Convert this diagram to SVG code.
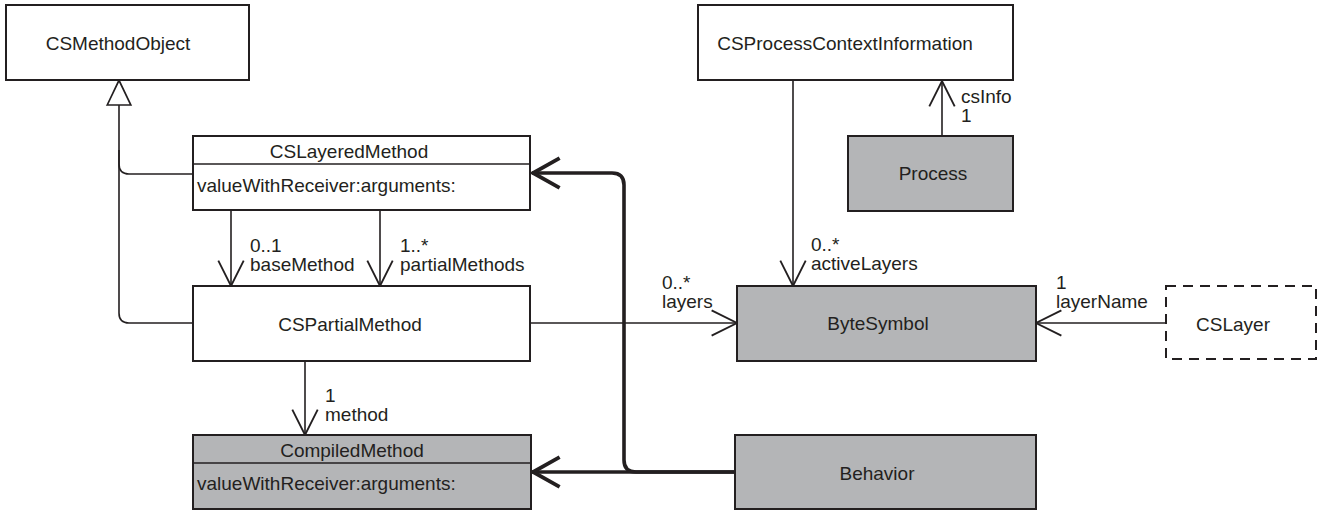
<svg xmlns="http://www.w3.org/2000/svg" width="1323" height="510" viewBox="0 0 1323 510">
  <style>
    text { font-family: "Liberation Sans", Arial, sans-serif; font-size: 19px; fill: #231f20; }
    .c { text-anchor: middle; }
    .box { fill: #ffffff; stroke: #231f20; stroke-width: 2; }
    .gray { fill: #b4b5b7; stroke: #231f20; stroke-width: 2; }
    .dash { fill: #ffffff; stroke: #231f20; stroke-width: 2; stroke-dasharray: 10 7; }
    .div { stroke: #231f20; stroke-width: 1.5; fill: none; }
    .ln { fill: none; stroke: #231f20; stroke-width: 1.6; }
    .bold { fill: none; stroke: #231f20; stroke-width: 3.6; }
  </style>
  <defs>
    <marker id="open" markerUnits="userSpaceOnUse" markerWidth="30" markerHeight="30" viewBox="-24 -13 26 26" refX="0" refY="0" orient="auto" overflow="visible">
      <path d="M -22 -11 L 0 0 L -22 11" fill="none" stroke="#231f20" stroke-width="1.6"/>
    </marker>
    <marker id="openBold" markerUnits="userSpaceOnUse" markerWidth="34" markerHeight="34" viewBox="-28 -16 30 32" refX="0" refY="0" orient="auto" overflow="visible">
      <path d="M -26 -14 L -1 0 L -26 14" fill="none" stroke="#231f20" stroke-width="3.6"/>
    </marker>
    <marker id="gen" markerUnits="userSpaceOnUse" markerWidth="30" markerHeight="30" viewBox="-2 -13 28 26" refX="0" refY="0" orient="auto" overflow="visible">
      <path d="M 0 -11 L 23 0 L 0 11 Z" fill="#ffffff" stroke="#231f20" stroke-width="1.6"/>
    </marker>
  </defs>

  <g id="connectors">
    <!-- generalization -->
    <path class="ln" d="M 193 323 L 129 323 Q 119 323 119 313 L 119 105" marker-end="url(#gen)"/>
    <path class="ln" d="M 193 174 L 129 174 Q 119 174 119 164 L 119 150"/>
    <!-- associations -->
    <path class="ln" d="M 231 211 L 231 286" marker-end="url(#open)"/>
    <path class="ln" d="M 380 211 L 380 286" marker-end="url(#open)"/>
    <path class="ln" d="M 305 361 L 305 435" marker-end="url(#open)"/>
    <path class="ln" d="M 530 323 L 737 323" marker-end="url(#open)"/>
    <path class="ln" d="M 1166 323 L 1036 323" marker-end="url(#open)"/>
    <path class="ln" d="M 793 80 L 793 286" marker-end="url(#open)"/>
    <path class="ln" d="M 942 136 L 942 81" marker-end="url(#open)"/>
    <!-- bold -->
    <path class="bold" d="M 735 472 L 532 472" marker-end="url(#openBold)"/>
    <path class="bold" d="M 735 472 L 636 472 Q 624 472 624 460 L 624 185 Q 624 173 612 173 L 532 173" marker-end="url(#openBold)"/>
    <!-- labels -->
    <text x="250" y="252">0..1</text>
    <text x="250" y="271">baseMethod</text>
    <text x="400" y="252">1..*</text>
    <text x="400" y="271">partialMethods</text>
    <text x="325" y="402">1</text>
    <text x="325" y="421">method</text>
    <text x="662" y="289">0..*</text>
    <text x="662" y="308">layers</text>
    <text x="811" y="251">0..*</text>
    <text x="811" y="270">activeLayers</text>
    <text x="961" y="103">csInfo</text>
    <text x="961" y="122">1</text>
    <text x="1056" y="289">1</text>
    <text x="1056" y="308">layerName</text>
  </g>

  <g id="CSMethodObject">
    <rect class="box" x="6" y="5" width="243" height="75"/>
    <text class="c" x="118" y="50">CSMethodObject</text>
  </g>

  <g id="CSLayeredMethod">
    <rect class="box" x="193" y="136" width="337" height="74"/>
    <line class="div" x1="193" y1="164" x2="530" y2="164"/>
    <text class="c" x="349" y="158">CSLayeredMethod</text>
    <text x="197" y="192">valueWithReceiver:arguments:</text>
  </g>

  <g id="CSPartialMethod">
    <rect class="box" x="193" y="286" width="337" height="75"/>
    <text class="c" x="350" y="331">CSPartialMethod</text>
  </g>

  <g id="CompiledMethod">
    <rect class="gray" x="193" y="435" width="338" height="74"/>
    <line class="div" x1="193" y1="463" x2="531" y2="463"/>
    <text class="c" x="352" y="457">CompiledMethod</text>
    <text x="197" y="490">valueWithReceiver:arguments:</text>
  </g>

  <g id="CSProcessContextInformation">
    <rect class="box" x="698" y="5" width="315" height="75"/>
    <text class="c" x="845" y="50">CSProcessContextInformation</text>
  </g>

  <g id="Process">
    <rect class="gray" x="848" y="136" width="165" height="75"/>
    <text class="c" x="933" y="180">Process</text>
  </g>

  <g id="ByteSymbol">
    <rect class="gray" x="737" y="286" width="299" height="75"/>
    <text class="c" x="878" y="330">ByteSymbol</text>
  </g>

  <g id="CSLayer">
    <rect class="dash" x="1166" y="286" width="150" height="73"/>
    <text class="c" x="1233" y="331">CSLayer</text>
  </g>

  <g id="Behavior">
    <rect class="gray" x="735" y="435" width="301" height="74"/>
    <text class="c" x="877" y="480">Behavior</text>
  </g>
</svg>
